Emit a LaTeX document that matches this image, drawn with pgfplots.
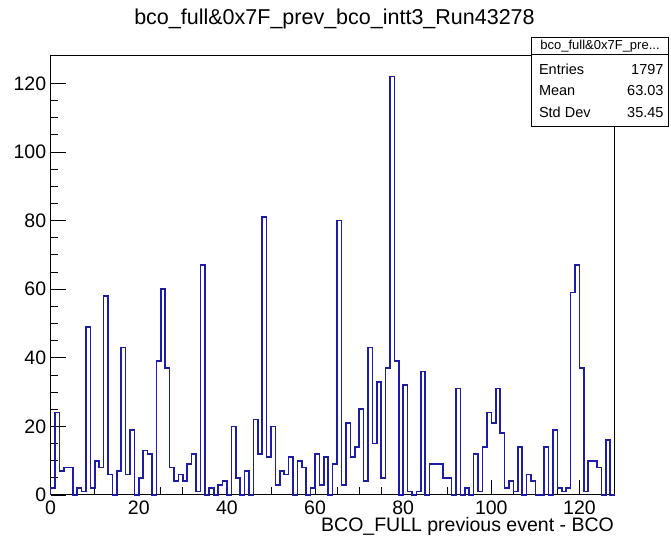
\documentclass[border=0pt]{standalone}
\usepackage{fontspec}
\setmainfont{Liberation Sans}
\usepackage{pgfplots}
\pgfplotsset{compat=1.18}
\definecolor{rootblue}{RGB}{28,28,168}

% bin contents, bins of width 1 from 0 to 128
\pgfplotstableread{
x y
0 0
0 2
1 24
2 7
3 8
4 8
5 0
6 2
7 1
8 49
9 2
10 10
11 8
12 58
13 6
14 0
15 7
16 43
17 6
18 19
19 0
20 5
21 13
22 12
23 0
24 39
25 60
26 37
27 8
28 4
29 6
30 4
31 9
32 12
33 1
34 67
35 0
36 2
37 0
38 3
39 4
40 0
41 20
42 5
43 0
44 7
45 0
46 22
47 12
48 81
49 11
50 20
51 3
52 7
53 6
54 11
55 0
56 10
57 8
58 0
59 2
60 12
61 3
62 11
63 0
64 9
65 80
66 3
67 21
68 11
69 14
70 25
71 4
72 43
73 15
74 33
75 5
76 37
77 122
78 39
79 0
80 32
81 1
82 0
83 1
84 36
85 0
86 9
87 9
88 9
89 5
90 5
91 0
92 31
93 0
94 2
95 0
96 12
97 1
98 14
99 24
100 21
101 31
102 18
103 2
104 4
105 1
106 14
107 0
108 6
109 4
110 0
111 0
112 14
113 0
114 19
115 2
116 1
117 2
118 59
119 67
120 37
121 1
122 10
123 10
124 8
125 0
126 16
127 0
128 0
}\histdata

\begin{document}
\begin{tikzpicture}[x=1pt,y=1pt]
\useasboundingbox (0,0) rectangle (671,537);
\begin{axis}[
    at={(50.67pt,42pt)}, anchor=origin,
    scale only axis,
    width=564pt, height=439.3pt,
    xmin=0, xmax=128, ymin=0, ymax=128.1,
    axis line style={line width=1pt},
    xtick={0,20,...,120}, ytick={0,20,...,120},
    minor x tick num=3, minor y tick num=3,
    tick align=inside,
    xtick pos=bottom, ytick pos=left,
    major tick length=15pt, minor tick length=7.5pt,
    tick style={black, line width=0.9pt},
    /pgf/number format/assume math mode=true,
    tick label style={font=\fontsize{19.5}{19.5}\selectfont},
    xticklabel style={inner sep=0pt, yshift=-6pt},
    yticklabel style={xshift=-1pt},
    scaled ticks=false,
    clip=false,
]
\addplot[const plot mark left, rootblue, line width=1.6pt] table[x=x,y=y] {\histdata};
\end{axis}
\node[font=\fontsize{21.5}{21.5}\selectfont] at (334.5,518) {bco\_full\&0x7F\_prev\_bco\_intt3\_Run43278};
\node[font=\fontsize{19.5}{19.5}\selectfont, anchor=base east, inner sep=0pt] at (614,5.5) {BCO\_FULL previous event - BCO};
% statistics box
\draw[fill=white, line width=1pt] (531.7,410.3) rectangle (668.3,499.7);
\draw[line width=1pt] (531.7,482) -- (668.3,482);
\node[font=\fontsize{13}{13}\selectfont] at (600,491) {bco\_full\&0x7F\_pre...};
\begin{scope}[every node/.style={font=\fontsize{14.5}{14.5}\selectfont}]
\node[anchor=west] at (535.5,467.7) {Entries};
\node[anchor=east] at (667,467.7) {1797};
\node[anchor=west] at (535.5,446) {Mean};
\node[anchor=east] at (667,446) {63.03};
\node[anchor=west] at (535.5,424.3) {Std Dev};
\node[anchor=east] at (667,424.3) {35.45};
\end{scope}
\end{tikzpicture}
\end{document}
